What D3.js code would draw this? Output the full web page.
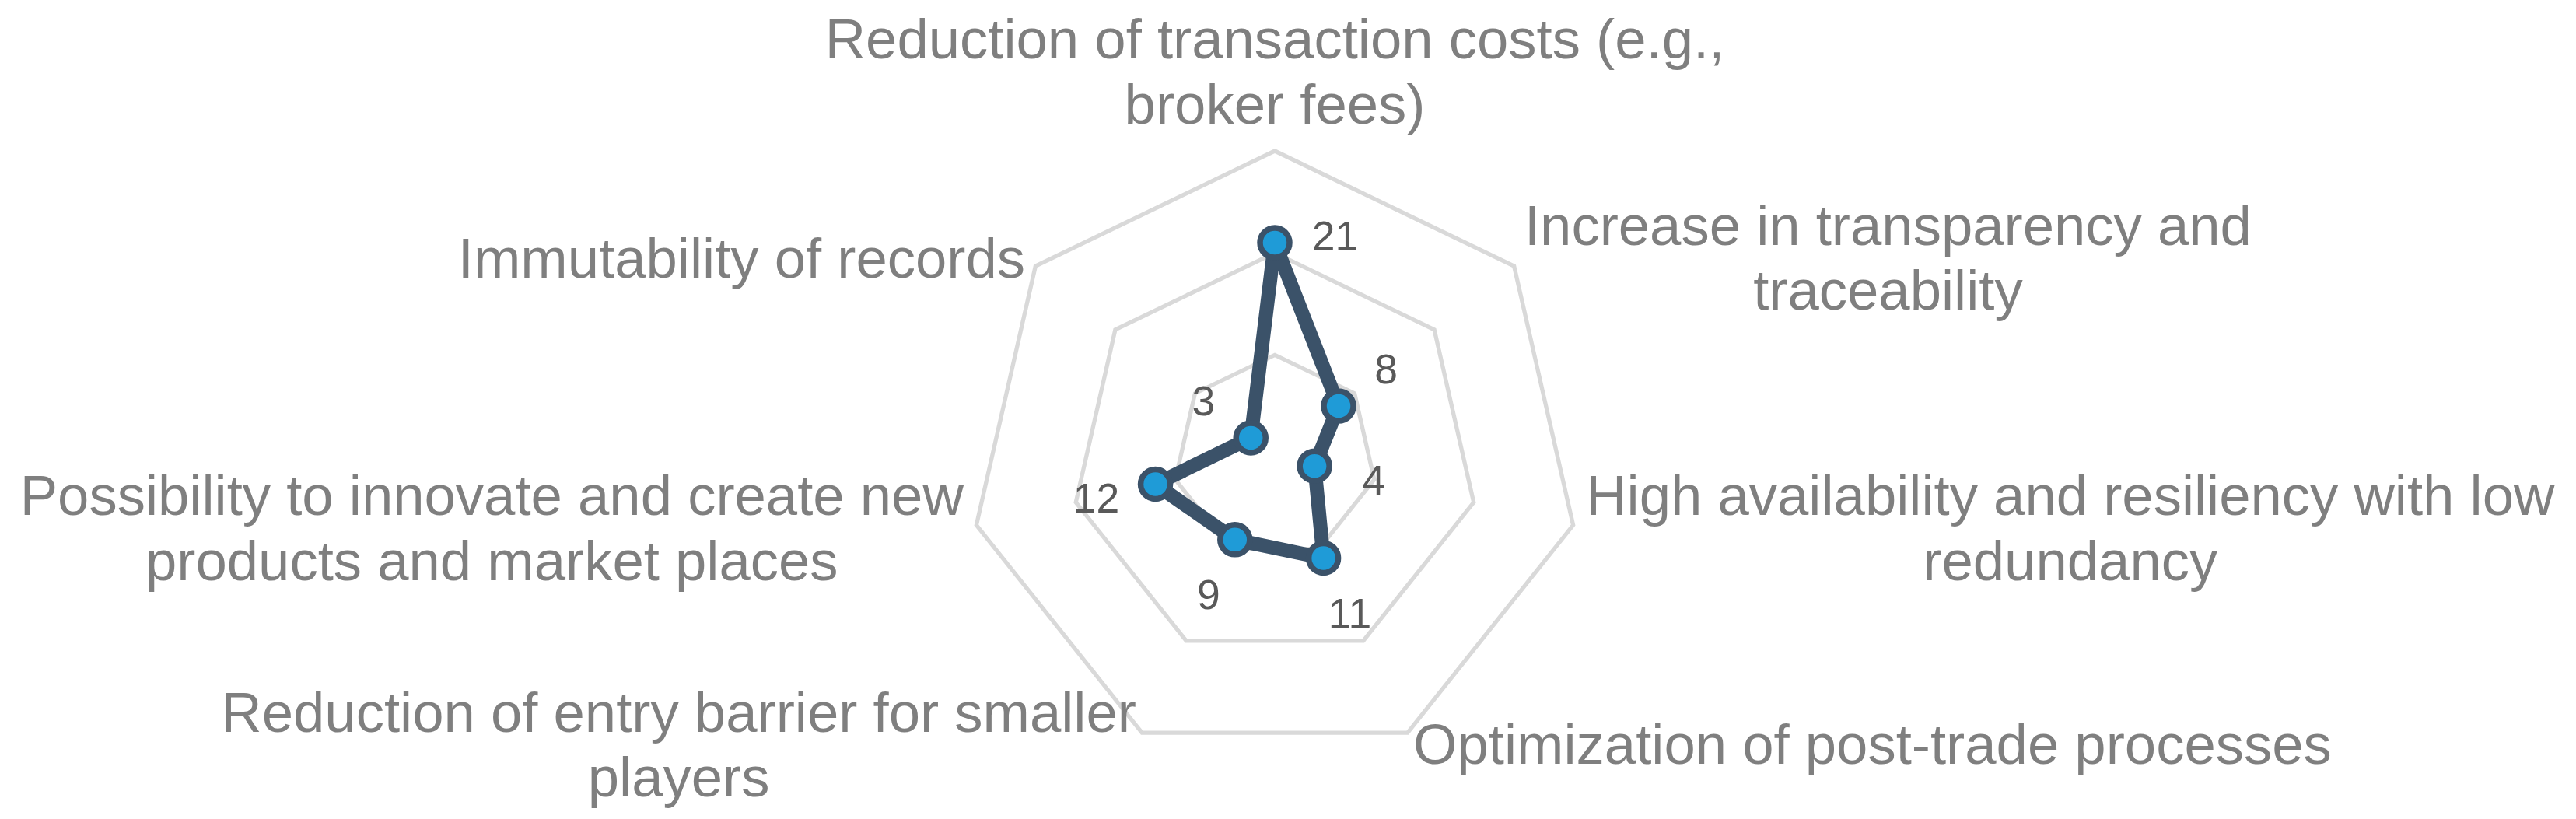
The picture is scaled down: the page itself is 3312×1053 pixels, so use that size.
<!DOCTYPE html>
<html>
<head>
<meta charset="utf-8">
<script src="https://cdn.jsdelivr.net/npm/d3@7"></script>
<style>
    body{margin:0;background:#ffffff;}
    svg{display:block;}
</style>
</head>
<body>
<script>
////Data
var categories = [
    "Reduction of transaction costs (e.g.,\nbroker fees)",
    "Increase in transparency and\ntraceability",
    "High availability and resiliency with low\nredundancy",
    "Optimization of post-trade processes",
    "Reduction of entry barrier for smaller\nplayers",
    "Possibility to innovate and create new\nproducts and market places",
    "Immutability of records"
]
var values = [21, 8, 4, 11, 9, 12, 3]
var axisMax = 30
var gridTicks = [10, 20, 30]

////Layout
var width = 3312, height = 1053
var cx = 1639, cy = 587.5, R = 393.5
var catFont = 72.5, lineStep = 83.5 //Category label font size and line spacing
var numFont = 53.5 //Data label font size

var svg = d3.select("body").append("svg")
    .attr("width", width)
    .attr("height", height)

svg.append("rect").attr("width", width).attr("height", height).attr("fill", "#ffffff")

var g = svg.append("g").attr("transform", "translate(" + cx + "," + cy + ")")

//Radial scale and angle for each category
var r = d3.scaleLinear().domain([0, axisMax]).range([0, R])
var n = categories.length
function angle(i){ return -Math.PI / 2 + i * 2 * Math.PI / n }
function pt(i, v){ return [Math.cos(angle(i)) * r(v), Math.sin(angle(i)) * r(v)] }

///Gridline heptagons
var ring = d3.line().curve(d3.curveLinearClosed)
g.selectAll(".grid")
    .data(gridTicks)
    .enter().append("path")
    .attr("class", "grid")
    .attr("d", function(t){ return ring(d3.range(n).map(function(i){ return pt(i, t) })) })
    .attr("fill", "none")
    .attr("stroke", "#d9d9d9")
    .attr("stroke-width", 5.3)
    .attr("stroke-linejoin", "miter")

///Series line
g.append("path")
    .attr("d", ring(values.map(function(v, i){ return pt(i, v) })))
    .attr("fill", "none")
    .attr("stroke", "#3b5269")
    .attr("stroke-width", 18)
    .attr("stroke-linejoin", "round")

///Markers
g.selectAll(".marker")
    .data(values)
    .enter().append("circle")
    .attr("class", "marker")
    .attr("cx", function(v, i){ return pt(i, v)[0] })
    .attr("cy", function(v, i){ return pt(i, v)[1] })
    .attr("r", 19)
    .attr("fill", "#1f9bd7")
    .attr("stroke", "#3b5269")
    .attr("stroke-width", 7.5)

///Data labels, pushed out along the axis (first one sits to the right of its point)
g.selectAll(".num")
    .data(values)
    .enter().append("text")
    .attr("class", "num")
    .attr("x", function(v, i){
        var a = i === 0 ? angle(i) + Math.PI * 0.464 : angle(i)
        return pt(i, v)[0] + Math.cos(a) * 78
    })
    .attr("y", function(v, i){
        var a = i === 0 ? angle(i) + Math.PI * 0.464 : angle(i)
        return pt(i, v)[1] + Math.sin(a) * 78 + 0.358 * numFont
    })
    .attr("text-anchor", "middle")
    .attr("font-family", "'Liberation Sans', Arial, sans-serif")
    .attr("font-size", numFont)
    .attr("fill", "#595959")
    .text(function(v){ return v })

///Category labels, placed just outside the outer ring
var ascent = 0.905 * catFont, boxLine = 1.117 * catFont
categories.forEach(function(c, i){
    var lines = c.split("\n")
    var a = angle(i), cosA = Math.cos(a), sinA = Math.sin(a)
    var top = Math.abs(cosA) < 0.1
    var pad = top ? 20 : 17
    var px = cosA * (R + pad)
    var py = sinA * (R + pad)

    var label = g.append("text")
        .attr("font-family", "'Liberation Sans', Arial, sans-serif")
        .attr("font-size", catFont)
        .attr("fill", "#7f7f7f")
        .attr("text-anchor", "middle")

    var spans = lines.map(function(l){ return label.append("tspan").text(l) })
    var w = d3.max(spans, function(s){ return s.node().getComputedTextLength() })
    var h = (lines.length - 1) * lineStep + boxLine

    //Horizontal and vertical alignment of the label box around its anchor point
    var fx = top ? 0.5 : (cosA > 0 ? 0 : 1)
    var fy = top ? 1 : 0.5
    var boxLeft = px - w * fx
    var boxTop = py - h * fy

    spans.forEach(function(s, k){
        s.attr("x", boxLeft + w / 2).attr("y", boxTop + ascent + k * lineStep)
    })
})
</script>
</body>
</html>
